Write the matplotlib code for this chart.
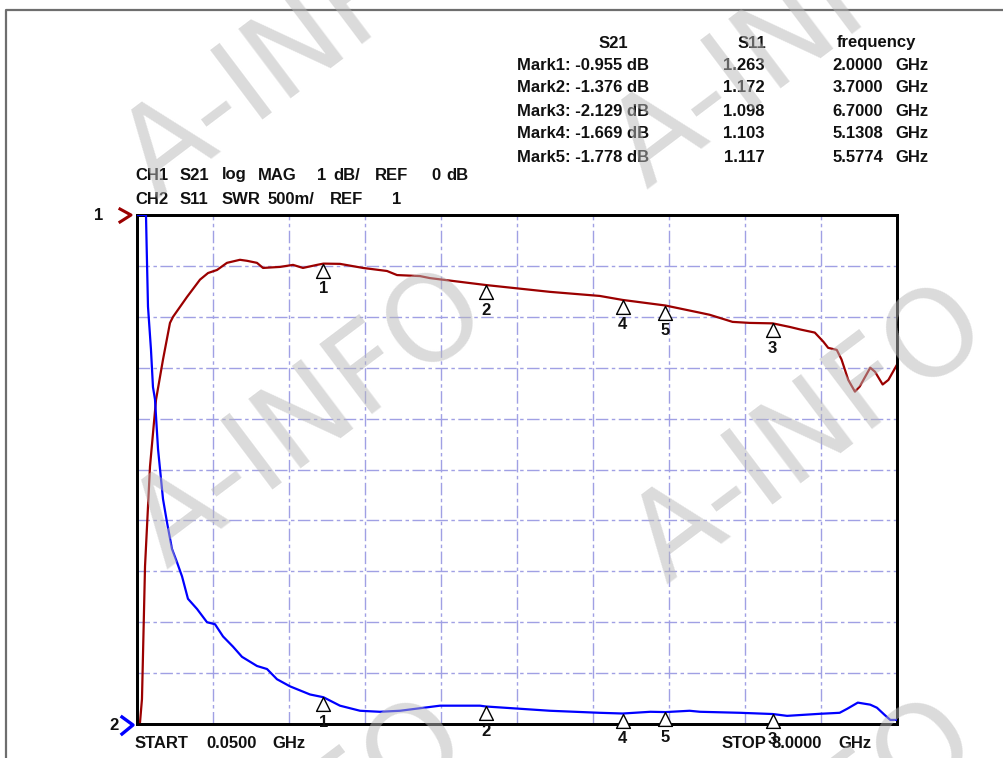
import numpy as np
import matplotlib
matplotlib.use("Agg")
import matplotlib.pyplot as plt
from matplotlib.lines import Line2D

# trace data (GHz)
s21_freq = [0.05, 0.081, 0.102, 0.110, 0.134, 0.186, 0.249, 0.322, 0.395, 0.427,
            0.573, 0.709, 0.793, 0.887, 0.991, 1.127, 1.201, 1.305, 1.368, 1.546,
            1.682, 1.786, 1.933, 2.0, 2.173, 2.414, 2.665, 2.770, 3.010, 3.115,
            3.7, 4.37, 4.89, 5.1308, 5.5774, 5.94, 6.04, 6.28, 6.46, 6.7,
            6.88, 6.99, 7.14, 7.23, 7.28, 7.37, 7.42, 7.49, 7.56, 7.61,
            7.72, 7.77, 7.85, 7.91, 8.0]
s21_db = [-10.0, -9.98, -9.51, -8.86, -6.90, -4.94, -3.63, -2.84, -2.12, -2.00,
          -1.61, -1.27, -1.14, -1.08, -0.94, -0.88, -0.90, -0.94, -1.04, -1.02,
          -0.98, -1.04, -0.98, -0.955, -0.96, -1.04, -1.10, -1.18, -1.20, -1.24,
          -1.376, -1.51, -1.59, -1.669, -1.778, -1.92, -1.96, -2.10, -2.12, -2.129,
          -2.20, -2.25, -2.31, -2.49, -2.61, -2.65, -2.84, -3.24, -3.47, -3.37,
          -3.00, -3.08, -3.33, -3.24, -2.94]

s11_freq = [0.05, 0.144, 0.151, 0.165, 0.196, 0.217, 0.238, 0.270, 0.322, 0.364,
            0.416, 0.468, 0.521, 0.583, 0.678, 0.782, 0.866, 0.950, 1.054, 1.148,
            1.305, 1.410, 1.514, 1.650, 1.860, 2.0, 2.173, 2.383, 2.592, 2.801,
            3.220, 3.638, 3.7, 4.37, 4.89, 5.1308, 5.42, 5.5774, 5.83, 5.94,
            6.36, 6.7, 6.85, 7.19, 7.40, 7.48, 7.59, 7.72, 7.79, 7.87,
            7.93, 8.0]
s11_swr = [6.0, 6.0, 5.69, 5.10, 4.68, 4.31, 4.19, 3.70, 3.21, 2.98,
           2.72, 2.59, 2.45, 2.23, 2.13, 2.00, 1.98, 1.86, 1.76, 1.66,
           1.57, 1.54, 1.44, 1.37, 1.29, 1.263, 1.18, 1.13, 1.12, 1.13,
           1.18, 1.18, 1.172, 1.13, 1.11, 1.103, 1.12, 1.117, 1.13, 1.12,
           1.11, 1.098, 1.08, 1.10, 1.11, 1.15, 1.21, 1.19, 1.16, 1.09,
           1.04, 1.04]

# marker table
mark_names = ["Mark1:", "Mark2:", "Mark3:", "Mark4:", "Mark5:"]
mark_freq = [2.0, 3.7, 6.7, 5.1308, 5.5774]
mark_s21 = [-0.955, -1.376, -2.129, -1.669, -1.778]
mark_s11 = [1.263, 1.172, 1.098, 1.103, 1.117]

start_f, stop_f = 0.05, 8.0

W, H = 1004, 758
fig = plt.figure(figsize=(W / 100, H / 100), dpi=100)
fig.patch.set_facecolor("white")

def fx(x):
    return x / W

def fy(y):
    return 1 - y / H

ax = fig.add_axes([fx(137), fy(724), (897 - 137) / W, (724 - 215) / H])
ax2 = ax.twinx()

ax.set_xlim(start_f, stop_f)
ax.set_ylim(-10, 0)
ax2.set_ylim(1, 6)

grid_style = dict(color="#a0a0e4", linewidth=1.0, linestyle=(0, (9, 2.5, 2.5, 2.5)))
ax.set_xticks(np.linspace(start_f, stop_f, 11)[1:-1])
ax.set_yticks(np.linspace(-10, 0, 11)[1:-1])
ax.grid(True, **grid_style)
ax.tick_params(length=0, labelbottom=False, labelleft=False)
ax2.set_yticks([])
for a in (ax, ax2):
    for s in a.spines.values():
        s.set_linewidth(2.0)
        s.set_color("black")

ax.plot(s21_freq, s21_db, color="#9b0000", linewidth=1.6, zorder=3)
ax2.plot(s11_freq, s11_swr, color="#0000ff", linewidth=1.6, zorder=3)

tkw = dict(fontsize=12, fontweight="bold", family="Liberation Sans",
           color="#111111", va="center")

tri = [(0, 0), (-1, -2), (1, -2), (0, 0)]
for i, f in enumerate(mark_freq):
    lab = mark_names[i][4]
    for a, v in ((ax, mark_s21[i]), (ax2, mark_s11[i])):
        a.plot([f], [v], marker=tri, markersize=20, markerfacecolor="white",
               markeredgecolor="black", markeredgewidth=1.0, linestyle="none",
               zorder=5, clip_on=False)
        a.annotate(lab, (f, v), xytext=(0, -25), textcoords="offset pixels",
                   ha="center", zorder=6, annotation_clip=False, **tkw)

def put(x, y, s, ha="left"):
    fig.text(fx(x), fy(y), s, ha=ha, **tkw)

# channel header lines
for x, s in [(135, "CH1"), (180, "S21"), (222, "log"), (258, "MAG"), (317, "1"),
             (333, "dB/"), (375, "REF"), (431, "0"), (446, "dB")]:
    put(x, 175, s)
for x, s in [(135, "CH2"), (180, "S11"), (222, "SWR"), (268, "500m/"), (330, "REF"),
             (392, "1")]:
    put(x, 200, s)

# marker table
put(613, 43, "S21", ha="center")
put(752, 43, "S11", ha="center")
put(876, 43, "frequency", ha="center")
for i in range(5):
    y = 65 + 23 * i
    put(517, y, "%s %.3f dB" % (mark_names[i], mark_s21[i]))
    put(744, y, "%.3f" % mark_s11[i], ha="center")
    put(883, y, "%.4f" % mark_freq[i], ha="right")
    put(929, y, "GHz", ha="right")

put(135, 743, "START")
put(206, 743, "%.4f" % start_f)
put(272, 743, "GHz")
put(722, 743, "STOP")
put(772, 743, "%.4f" % stop_f)
put(838, 743, "GHz")

# reference arrows
put(99, 215, "1", ha="center")
put(114, 726, "2", ha="center")
fig.add_artist(Line2D([fx(120), fx(131), fx(120)], [fy(209), fy(215), fy(222)],
                      color="#9b0000", linewidth=2.2))
fig.add_artist(Line2D([fx(122), fx(133), fx(122)], [fy(717), fy(725), fy(734)],
                      color="#0000ff", linewidth=2.4))

# window frame
fig.add_artist(Line2D([fx(6), fx(6), fx(1004)], [fy(758), fy(10), fy(10)],
                      color="#6e6e6e", linewidth=1.6))

# watermarks
for cx, cy in [(300, 50), (790, 40), (310, 420), (810, 435), (290, 850), (800, 850)]:
    fig.text(fx(cx), fy(cy), "A-INFO", rotation=37, ha="center", va="center",
             rotation_mode="anchor", fontsize=86, family="DejaVu Sans",
             color="#b8b8b8", alpha=0.5, zorder=20)

fig.savefig("out.png", dpi=100, facecolor="white")
